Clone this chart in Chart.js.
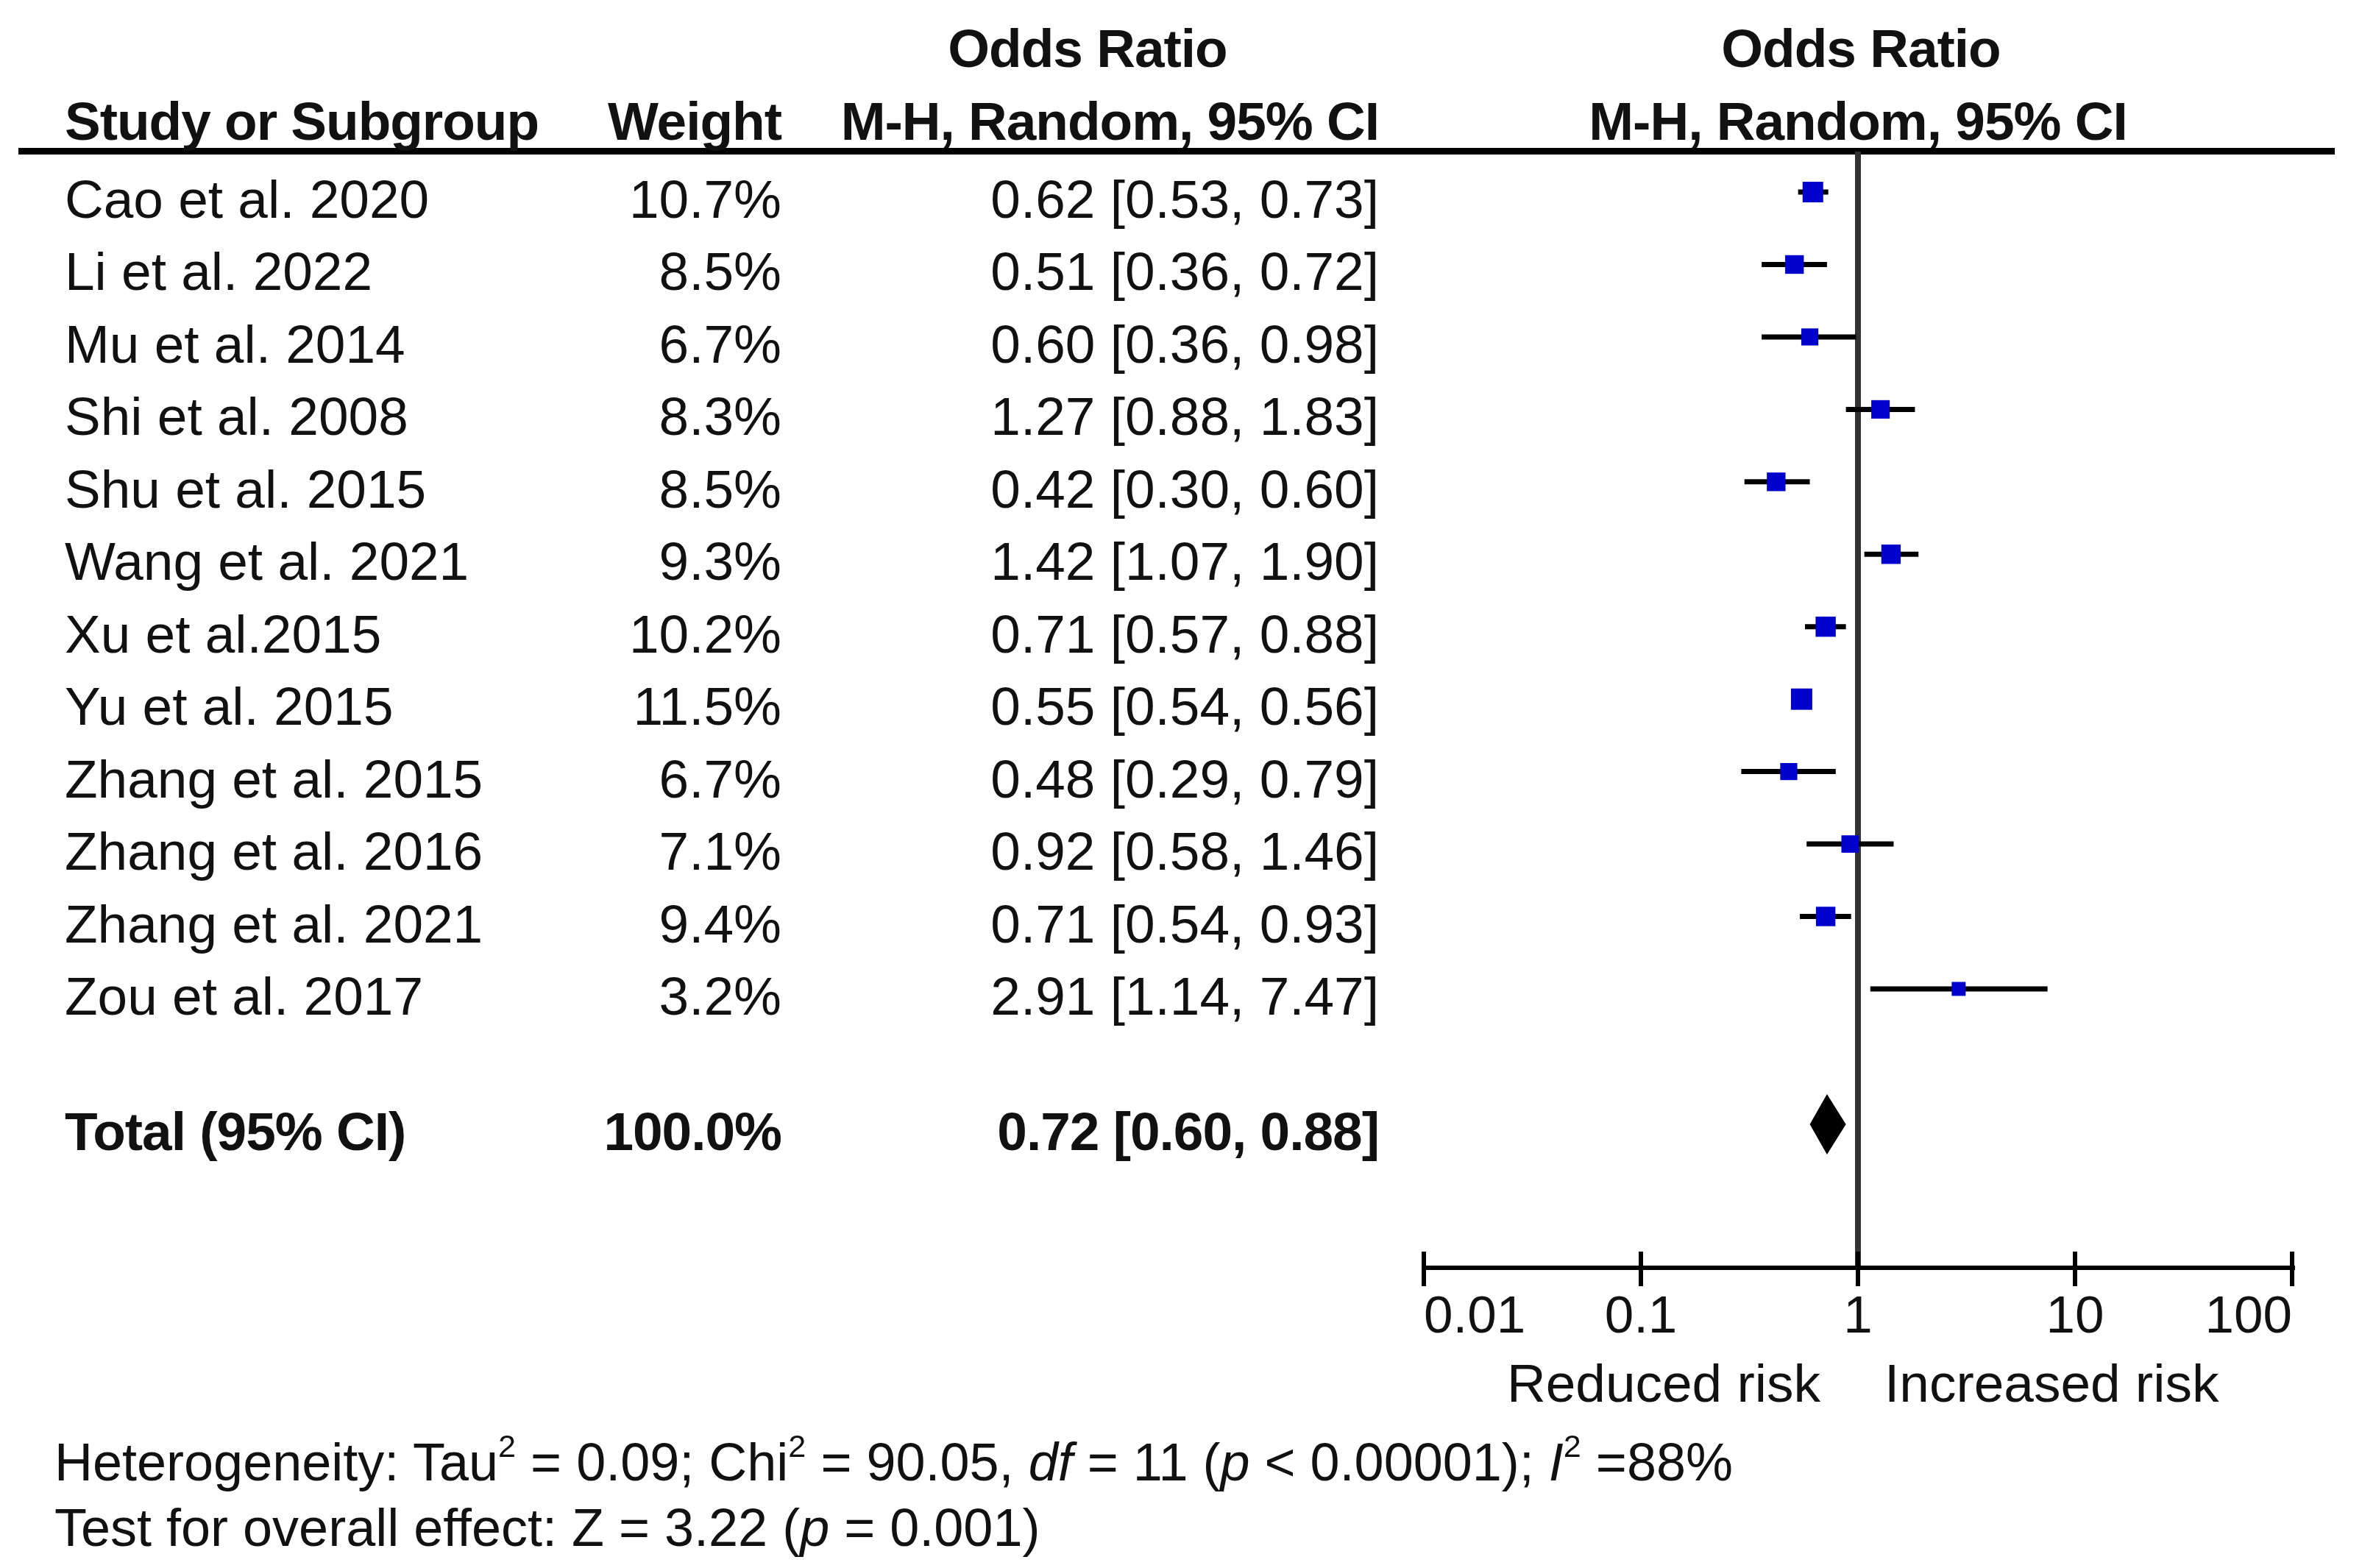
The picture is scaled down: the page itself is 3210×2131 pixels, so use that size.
<!DOCTYPE html>
<html lang="en">
<head>
<meta charset="UTF-8">
<title>Forest plot</title>
<style>
  html, body { margin: 0; padding: 0; background: #fff; }
  body { width: 3210px; height: 2131px; position: relative; overflow: hidden;
         font-family: "Liberation Sans", Arial, sans-serif; color: #111; }
  #chart { position: absolute; left: 0; top: 0; }
  .t { position: absolute; font-size: 73px; line-height: 72px; height: 72px; white-space: nowrap; }
  .b { font-weight: bold; letter-spacing: -1px; }
  .f { font-size: 72px; }
  #rule { position: absolute; left: 25px; width: 3148px; top: 201px; height: 9px; background: #000; }
  sup { font-size: 0.6em; line-height: 0; vertical-align: 0.75em; }
</style>
</head>
<body>
<div id="rule"></div>
<canvas id="chart" width="3210" height="2131"></canvas>
<div id="text"></div>
<script src="https://cdn.jsdelivr.net/npm/chart.js"></script>
<script>
// data
const studies = ['Cao et al. 2020', 'Li et al. 2022', 'Mu et al. 2014', 'Shi et al. 2008', 'Shu et al. 2015',
  'Wang et al. 2021', 'Xu et al.2015', 'Yu et al. 2015', 'Zhang et al. 2015', 'Zhang et al. 2016',
  'Zhang et al. 2021', 'Zou et al. 2017'];
const weights = [10.7, 8.5, 6.7, 8.3, 8.5, 9.3, 10.2, 11.5, 6.7, 7.1, 9.4, 3.2];
const oddsRatio = [0.62, 0.51, 0.60, 1.27, 0.42, 1.42, 0.71, 0.55, 0.48, 0.92, 0.71, 2.91];
const ciLower = [0.53, 0.36, 0.36, 0.88, 0.30, 1.07, 0.57, 0.54, 0.29, 0.58, 0.54, 1.14];
const ciUpper = [0.73, 0.72, 0.98, 1.83, 0.60, 1.90, 0.88, 0.56, 0.79, 1.46, 0.93, 7.47];
const totalWeight = 100.0;
const totalOR = 0.72;
const totalLower = 0.60;
const totalUpper = 0.88;
const xTicks = [0.01, 0.1, 1, 10, 100];

// layout
const TOTAL_ROW = 12.87;
const TEXT_SHIFT = 10;      // text sits a little below the marker line
const COL_NAME = 88, COL_WEIGHT = 1062, COL_OR = 1874;
const fmt = v => v.toFixed(2);

const ciData = studies.map((s, i) => ({
  data: [{ x: ciLower[i], y: i }, { x: ciUpper[i], y: i }],
  showLine: true,
  borderColor: '#000',
  borderWidth: 7,
  borderCapStyle: 'butt',
  pointRadius: 0
}));

// tick marks above and below the axis line
const axisTicks = {
  id: 'axisTicks',
  afterDraw(chart) {
    const x = chart.scales.x, y0 = chart.chartArea.bottom, c = chart.ctx;
    c.save();
    c.strokeStyle = '#000';
    c.lineWidth = 6;
    x.ticks.forEach(t => {
      const px = x.getPixelForValue(t.value);
      c.beginPath();
      c.moveTo(px, y0 - 22);
      c.lineTo(px, y0 + 25);
      c.stroke();
    });
    c.restore();
  }
};

// pooled estimate diamond
const diamond = {
  id: 'diamond',
  afterDatasetsDraw(chart) {
    const x = chart.scales.x, y = chart.scales.y.getPixelForValue(TOTAL_ROW), c = chart.ctx;
    c.save();
    c.fillStyle = '#000';
    c.beginPath();
    c.moveTo(x.getPixelForValue(totalLower), y);
    c.lineTo(x.getPixelForValue(totalOR), y - 41);
    c.lineTo(x.getPixelForValue(totalUpper), y);
    c.lineTo(x.getPixelForValue(totalOR), y + 41);
    c.closePath();
    c.fill();
    c.restore();
  }
};

const chart = new Chart(document.getElementById('chart'), {
  type: 'scatter',
  data: {
    datasets: [{
      data: studies.map((s, i) => ({ x: oddsRatio[i], y: i })),
      pointStyle: 'rect',
      pointRadius: weights.map(w => 10.7 + 0.85 * w),
      backgroundColor: '#0000cc',
      borderWidth: 0
    }].concat(ciData)
  },
  options: {
    responsive: false,
    animation: false,
    events: [],
    devicePixelRatio: 1,
    layout: { padding: { left: 1935, right: 95, top: 206, bottom: 298 } },
    plugins: { legend: { display: false }, tooltip: { enabled: false } },
    scales: {
      x: {
        type: 'logarithmic',
        min: 0.01,
        max: 100,
        afterBuildTicks: s => { s.ticks = xTicks.map(v => ({ value: v })); },
        afterFit: s => { s.height = 110; },
        ticks: {
          callback: v => String(v),
          font: { family: 'Liberation Sans', size: 71 },
          color: '#111',
          padding: 26,
          align: 'inner',
          maxRotation: 0,
          autoSkip: false
        },
        grid: {
          drawTicks: false,
          lineWidth: 8,
          color: ctx => (ctx.tick && ctx.tick.value === 1) ? '#333' : 'rgba(0,0,0,0)'
        },
        border: { display: true, color: '#000', width: 6 }
      },
      y: {
        type: 'linear',
        display: false,
        reverse: true,
        min: -0.559,
        max: 14.85
      }
    }
  },
  plugins: [axisTicks, diamond]
});

// table text, placed on the chart's own scales
const box = document.getElementById('text');
function put(html, yc, opt) {
  const d = document.createElement('div');
  d.className = 't' + (opt.bold ? ' b' : '') + (opt.cls ? ' ' + opt.cls : '');
  d.innerHTML = html;
  d.style.top = (yc - 36) + 'px';
  if (opt.left !== undefined) d.style.left = opt.left + 'px';
  if (opt.right !== undefined) { d.style.right = (3210 - opt.right) + 'px'; d.style.textAlign = 'right'; }
  if (opt.center !== undefined) { d.style.left = (opt.center - 700) + 'px'; d.style.width = '1400px'; d.style.textAlign = 'center'; }
  box.appendChild(d);
}

const ys = chart.scales.y, xs = chart.scales.x;
const one = xs.getPixelForValue(1);

put('Odds Ratio', 66, { bold: true, center: 1478 });
put('Odds Ratio', 66, { bold: true, center: one + 4 });
put('Study or Subgroup', 165, { bold: true, left: COL_NAME });
put('Weight', 165, { bold: true, right: COL_WEIGHT });
put('M-H, Random, 95% CI', 165, { bold: true, right: COL_OR });
put('M-H, Random, 95% CI', 165, { bold: true, center: one });

studies.forEach((s, i) => {
  const yc = ys.getPixelForValue(i) + TEXT_SHIFT;
  put(s, yc, { left: COL_NAME });
  put(weights[i].toFixed(1) + '%', yc, { right: COL_WEIGHT });
  put(fmt(oddsRatio[i]) + ' [' + fmt(ciLower[i]) + ', ' + fmt(ciUpper[i]) + ']', yc, { right: COL_OR });
});

const yt = ys.getPixelForValue(TOTAL_ROW) + TEXT_SHIFT;
put('Total (95% CI)', yt, { bold: true, left: COL_NAME });
put(totalWeight.toFixed(1) + '%', yt, { bold: true, right: COL_WEIGHT });
put(fmt(totalOR) + ' [' + fmt(totalLower) + ', ' + fmt(totalUpper) + ']', yt, { bold: true, right: COL_OR });

put('Reduced risk', 1880, { right: one - 51 });
put('Increased risk', 1880, { left: one + 36 });

put('Heterogeneity: Tau<sup>2</sup> = 0.09; Chi<sup>2</sup> = 90.05, <i>df</i> = 11 (<i>p</i> &lt; 0.00001); <i>I</i><sup>2</sup> =88%', 1987, { left: 74, cls: 'f' });
put('Test for overall effect: Z = 3.22 (<i>p</i> = 0.001)', 2076, { left: 74, cls: 'f' });
</script>
</body>
</html>
